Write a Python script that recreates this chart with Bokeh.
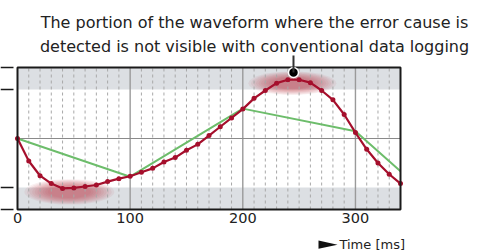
from bokeh.plotting import figure
from bokeh.models import (Range1d, FixedTicker, Label, PolyAnnotation, Arrow, LinearAxis)
from bokeh.embed import file_html
from bokeh.resources import INLINE

# ---- data ----
t_ms = [0, 10, 20, 30, 40, 50, 60, 70, 80, 90, 100, 110, 120, 130, 140, 150, 160, 170,
        180, 190, 200, 210, 220, 230, 240, 250, 260, 270, 280, 290, 300, 310, 320, 330, 340]
fine_signal = [0.0, -0.46, -0.76, -0.92, -1.02, -1.01, -0.98, -0.95, -0.88, -0.82, -0.77,
               -0.69, -0.61, -0.48, -0.39, -0.24, -0.12, 0.06, 0.24, 0.42, 0.60, 0.82,
               0.98, 1.13, 1.20, 1.20, 1.14, 0.98, 0.79, 0.49, 0.12, -0.22, -0.50, -0.73, -0.92]
coarse_t = [0, 100, 200, 300, 340]
coarse_signal = [0.0, -0.78, 0.61, 0.15, -0.67]
blob_t = [46, 244]
blob_y = [-1.09, 1.13]
blob_w = [80, 78]
blob_h = [0.52, 0.48]
marker_t = [245]
marker_y = [1.348]
x_ticks = [0, 100, 200, 300]
x_minor = [m for m in range(10, 340, 10) if m % 100 != 0]
x_limits = [0, 340]
band_edges = [-1.45, -1.0, 1.0, 1.45]
title_lines = ["The portion of the waveform where the error cause is",
               "detected is not visible with conventional data logging"]
x_label = "Time [ms]"

FONT = "DejaVu Sans"
TXT = "#222222"

# whole canvas is the frame; the chart box is drawn in data space
p = figure(width=477, height=252, output_backend="svg", toolbar_location=None,
           title=None, x_axis_type=None, y_axis_type=None,
           x_range=Range1d(-15.09, 408.35), y_range=Range1d(-2.328, 2.818),
           min_border_left=0, min_border_right=0, min_border_top=0, min_border_bottom=0,
           background_fill_color="white", border_fill_color="white")
p.outline_line_color = None
p.xgrid.visible = False if p.xgrid else None
p.ygrid.visible = False if p.ygrid else None

y_lo, y_hi = band_edges[0], band_edges[-1]
x_lo, x_hi = x_limits

# grey bands
p.quad(left=[x_lo, x_lo], right=[x_hi, x_hi],
       bottom=[band_edges[0], band_edges[2]], top=[band_edges[1], band_edges[3]],
       fill_color="#dcdfe3", line_color=None)

# blurred highlight blobs
n_layers = 10
for i in range(n_layers):
    s = 1.0 - 0.058 * i
    p.ellipse(x=blob_t, y=blob_y, width=[w * s for w in blob_w],
              height=[h * s for h in blob_h], fill_color="#b83048",
              fill_alpha=0.075, line_color=None)

# grid lines
p.segment(x0=x_minor, x1=x_minor, y0=[y_lo] * len(x_minor), y1=[y_hi] * len(x_minor),
          line_color="#a8a8a8", line_width=1, line_dash="3 3")
p.segment(x0=x_ticks[1:], x1=x_ticks[1:], y0=[y_lo] * 3, y1=[y_hi] * 3,
          line_color="#9a9a9a", line_width=1.4)
p.segment(x0=[x_lo], x1=[x_hi], y0=[0], y1=[0], line_color="#8a8a8a", line_width=1.2)

# coarse logging (green)
p.line(coarse_t, coarse_signal, line_color="#6dbd6b", line_width=2)
# fine waveform (red)
p.line(t_ms, fine_signal, line_color="#a50f2c", line_width=2.2)
p.scatter(t_ms, fine_signal, size=5, fill_color="#a50f2c", line_color=None)

# box outline
p.quad(left=[x_lo], right=[x_hi], bottom=[y_lo], top=[y_hi], fill_color=None,
       line_color="#1a1a1a", line_width=2)

# axes fixed onto the box
xa = LinearAxis(ticker=FixedTicker(ticks=x_ticks), fixed_location=y_lo,
                bounds=(x_lo, x_hi))
xa.axis_line_color = None
xa.major_tick_out = 0
xa.major_tick_in = 0
xa.minor_tick_out = 0
xa.minor_tick_in = 0
xa.major_label_standoff = 3
xa.major_label_text_font = FONT
xa.major_label_text_font_size = "14.5px"
xa.major_label_text_color = TXT
p.add_layout(xa, "below")

ya = LinearAxis(ticker=FixedTicker(ticks=band_edges), fixed_location=x_lo,
                bounds=(y_lo, y_hi))
ya.axis_line_color = None
ya.major_tick_in = -4
ya.major_tick_out = 17
ya.major_tick_line_color = "#1a1a1a"
ya.major_tick_line_width = 1.3
ya.minor_tick_out = 0
ya.minor_tick_in = 0
ya.major_label_text_font_size = "0px"
ya.major_label_text_alpha = 0
ya.major_label_standoff = 0
p.add_layout(ya, "left")

# callout
p.add_layout(Arrow(end=None, x_start=marker_t[0], y_start=marker_y[0],
                   x_end=marker_t[0], y_end=1.695, line_color="#333333", line_width=2))
p.scatter(marker_t, marker_y, size=10, fill_color="black", line_color="white",
          line_width=1.5)

p.add_layout(Label(x=210.4, y=2.369, text=title_lines[0], text_align="center",
                   text_baseline="alphabetic", text_font=FONT, text_font_size="16px",
                   text_color=TXT))
p.add_layout(Label(x=210.4, y=1.879, text=title_lines[1], text_align="center",
                   text_baseline="alphabetic", text_font=FONT, text_font_size="16px",
                   text_color=TXT))

# x label with pointer
p.add_layout(PolyAnnotation(xs=[267.2, 284.1, 267.2], ys=[-2.083, -2.168, -2.253],
                            fill_color="#111111", fill_alpha=1.0, line_color=None))
p.add_layout(Label(x=285.8, y=-2.168, text=x_label, text_align="left",
                   text_baseline="middle", text_font=FONT, text_font_size="13px",
                   text_color=TXT))

open("out.html", "w").write(file_html(p, INLINE))
